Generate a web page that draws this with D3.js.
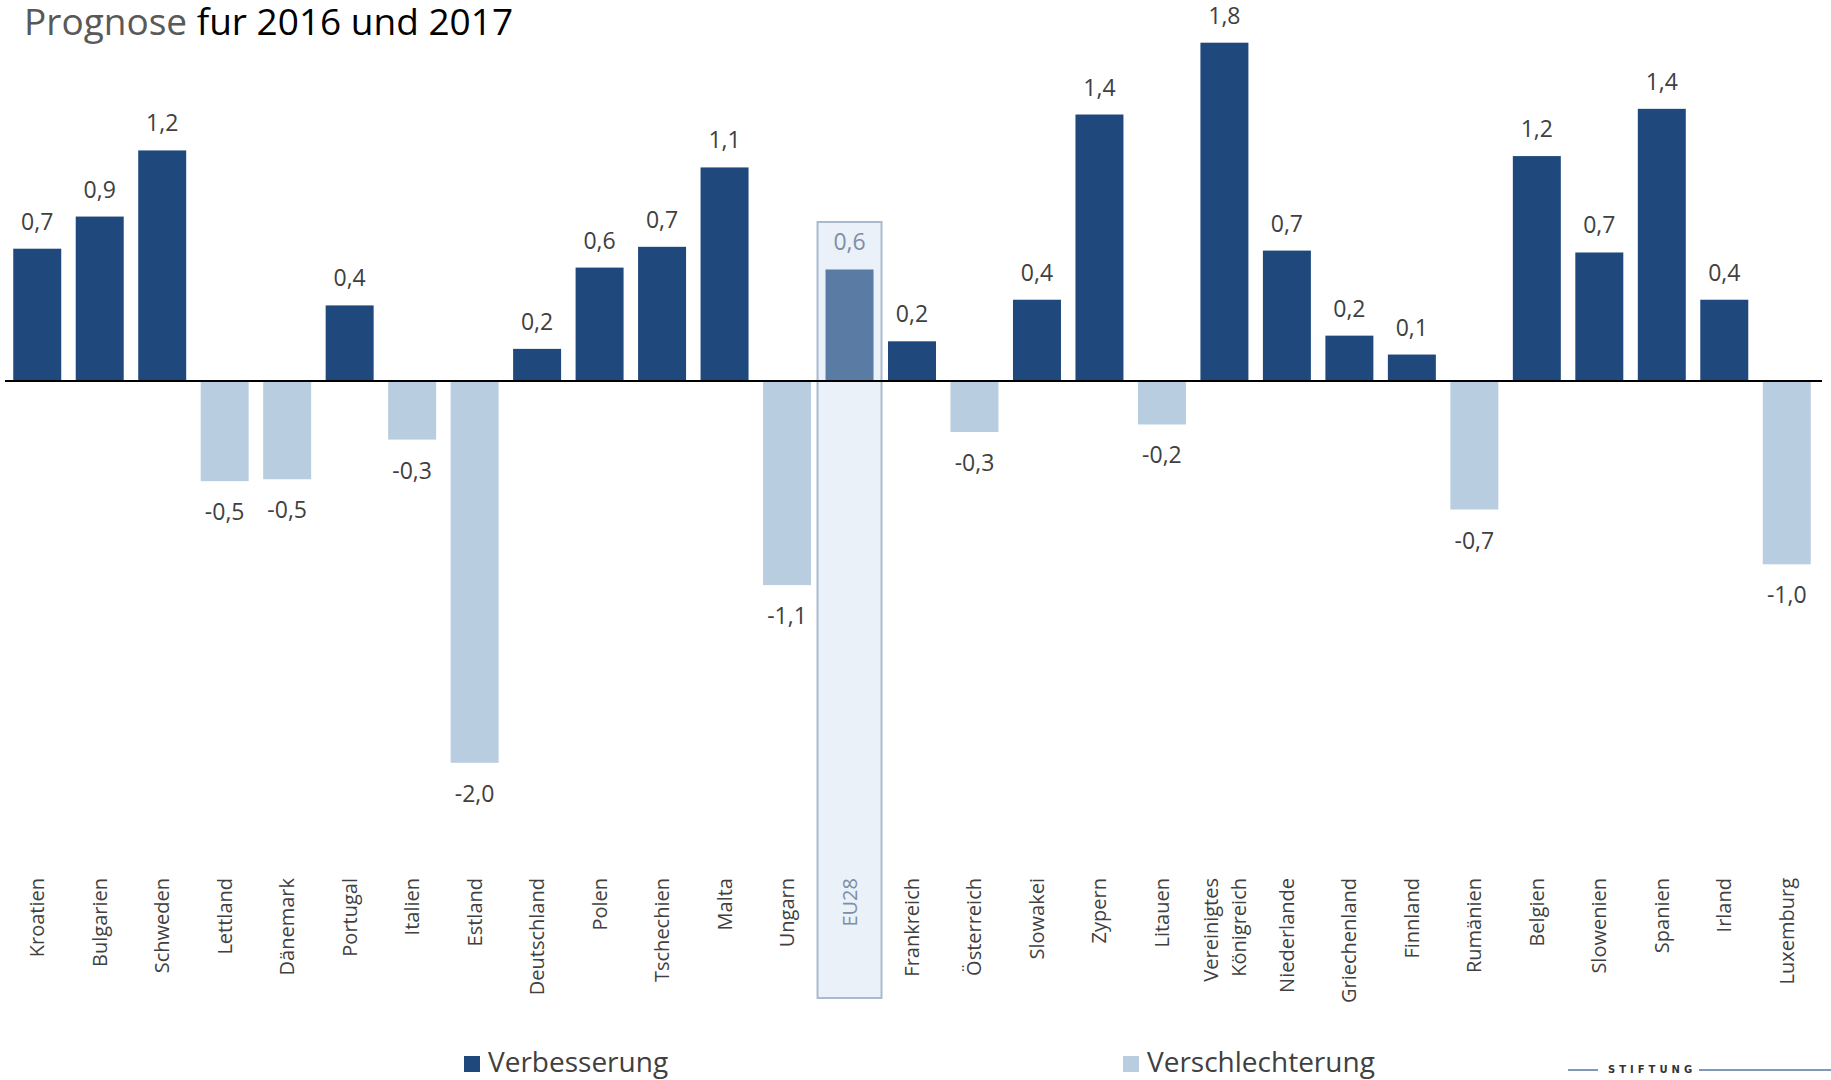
<!DOCTYPE html>
<html><head><meta charset="utf-8">
<script src="https://cdn.jsdelivr.net/npm/d3@7"></script>
<style>body{margin:0;background:#fff}svg{display:block}</style>
</head><body>
<svg id="c" width="1831" height="1080"></svg>
<script>
const categories = ["Kroatien","Bulgarien","Schweden","Lettland","Dänemark","Portugal","Italien","Estland","Deutschland","Polen","Tschechien","Malta","Ungarn","EU28","Frankreich","Österreich","Slowakei","Zypern","Litauen","Vereinigtes Königreich","Niederlande","Griechenland","Finnland","Rumänien","Belgien","Slowenien","Spanien","Irland","Luxemburg"];
const values = [0.70,0.87,1.22,-0.53,-0.52,0.40,-0.31,-2.02,0.17,0.60,0.71,1.13,-1.08,0.59,0.21,-0.27,0.43,1.41,-0.23,1.79,0.69,0.24,0.14,-0.68,1.19,0.68,1.44,0.43,-0.97];
const labels = ["0,7","0,9","1,2","-0,5","-0,5","0,4","-0,3","-2,0","0,2","0,6","0,7","1,1","-1,1","0,6","0,2","-0,3","0,4","1,4","-0,2","1,8","0,7","0,2","0,1","-0,7","1,2","0,7","1,4","0,4","-1,0"];
const legendItems = ["Verbesserung","Verschlechterung"];
const highlight = "EU28";

const svg = d3.select("#c");
const colUp = "#1f497c", colDown = "#b9cde0", colEU = "#5a7ca4";

const x = d3.scaleBand().domain(categories).range([6, 1818]).paddingInner(0.232).paddingOuter(0.116);
const y = d3.scaleLinear().domain([0, 1]).range([381, 192]);

// title
const t = svg.append("text").attr("x", 24).attr("y", 35)
  .style("font-family", "'Open Sans', sans-serif").style("font-size", "37px");
t.append("tspan").attr("fill", "#595959").text("Prognose ");
t.append("tspan").attr("fill", "#000").text("fur 2016 und 2017");

// EU28 highlight box
svg.append("rect")
  .attr("x", x(highlight) + x.bandwidth()/2 - 32).attr("width", 64)
  .attr("y", 222).attr("height", 776)
  .attr("fill", "#eaf1f9").attr("stroke", "#a9bacf").attr("stroke-width", 2);

// bars
const data = categories.map((c, i) => ({c, v: values[i], l: labels[i]}));
svg.selectAll("rect.bar").data(data).join("rect").attr("class", "bar")
  .attr("x", d => x(d.c)).attr("width", x.bandwidth())
  .attr("y", d => d.v >= 0 ? y(d.v) : y(0))
  .attr("height", d => Math.abs(y(d.v) - y(0)))
  .attr("fill", d => d.c === highlight ? colEU : (d.v >= 0 ? colUp : colDown));

// baseline
svg.append("line").attr("x1", 5).attr("x2", 1822).attr("y1", y(0)).attr("y2", y(0))
  .attr("stroke", "#000").attr("stroke-width", 2);

// value labels
svg.selectAll("text.val").data(data).join("text").attr("class", "val")
  .attr("x", d => x(d.c) + x.bandwidth()/2)
  .attr("y", d => d.v >= 0 ? y(d.v) - 19 : y(d.v) + 39)
  .attr("text-anchor", "middle")
  .style("font-family", "'Open Sans', sans-serif").style("font-size", "23px")
  .attr("fill", d => d.c === highlight ? "#7d8fa6" : "#404040")
  .text(d => d.l);

// category labels (rotated)
data.forEach(d => {
  const cx = x(d.c) + x.bandwidth()/2;
  const g = svg.append("g").attr("transform", `translate(${cx},878) rotate(-90)`);
  const parts = d.c === "Vereinigtes Königreich" ? ["Vereinigtes", "Königreich"] : [d.c];
  parts.forEach((p, j) => {
    const off = parts.length === 1 ? 7 : (j === 0 ? -6 : 22);
    g.append("text").attr("x", 0).attr("y", off).attr("text-anchor", "end")
      .style("font-family", d.c === highlight ? "'Liberation Sans Narrow', 'Open Sans', sans-serif" : "'Open Sans', sans-serif")
      .style("font-size", "20px")
      .attr("fill", d.c === highlight ? "#7d8fa6" : "#404040")
      .text(p);
  });
});

// legend
const legX = [464, 1123], legCol = [colUp, colDown];
legendItems.forEach((s, i) => {
  svg.append("rect").attr("x", legX[i]).attr("y", 1056).attr("width", 16).attr("height", 16).attr("fill", legCol[i]);
  svg.append("text").attr("x", legX[i] + 24).attr("y", 1072)
    .style("font-family", "'Open Sans', sans-serif").style("font-size", "28px")
    .attr("fill", "#404040").text(s);
});

// logo fragment
svg.append("line").attr("x1", 1568).attr("x2", 1598).attr("y1", 1070).attr("y2", 1070).attr("stroke", "#7f9ab8").attr("stroke-width", 2);
svg.append("line").attr("x1", 1699).attr("x2", 1831).attr("y1", 1070).attr("y2", 1070).attr("stroke", "#7f9ab8").attr("stroke-width", 2);
svg.append("text").attr("x", 1608).attr("y", 1073)
  .style("font-family", "'DejaVu Sans', sans-serif").style("font-size", "10px").style("font-weight", "bold")
  .style("letter-spacing", "4px").attr("fill", "#333").text("STIFTUNG");
</script>
</body></html>
